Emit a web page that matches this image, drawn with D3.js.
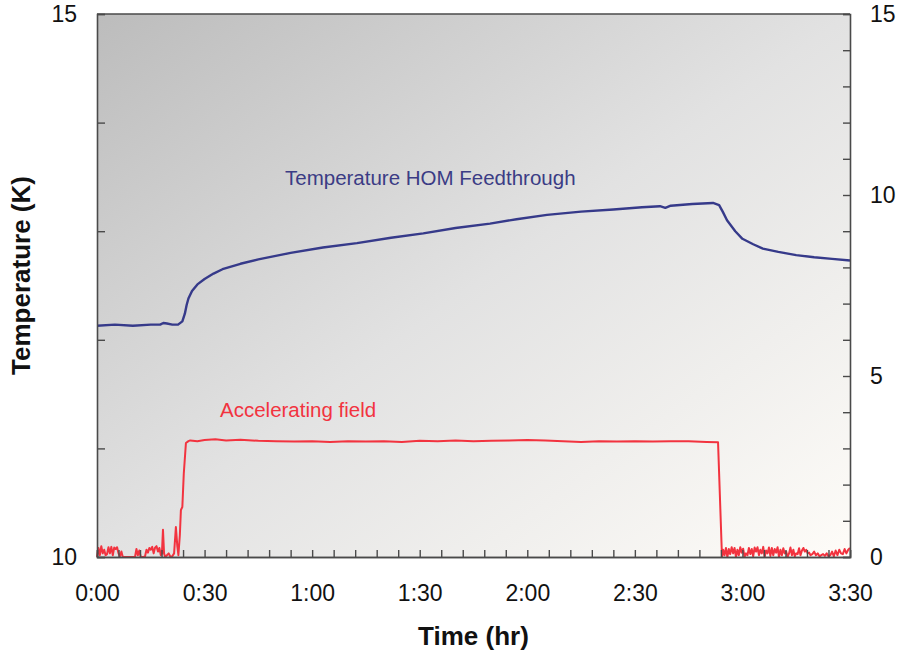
<!DOCTYPE html>
<html>
<head>
<meta charset="utf-8">
<script src="https://cdn.jsdelivr.net/npm/d3@7"></script>
<style>
  body { margin: 0; background: #fff; }
  svg text { font-family: "Liberation Sans", Arial, sans-serif; }
</style>
</head>
<body>
<svg id="chart" width="898" height="654"></svg>
<script>
// time in minutes, HOM feedthrough temperature in K (left axis)
var tempPts = [
  [0, 12.13], [5, 12.14], [10, 12.13], [15, 12.14], [17.6, 12.14], [18.5, 12.155],
  [19.5, 12.15], [21, 12.14], [22.6, 12.14], [23.8, 12.17], [24.5, 12.24], [25, 12.32],
  [25.5, 12.38], [26.5, 12.45], [28, 12.51], [30, 12.56], [32.5, 12.61], [35, 12.65],
  [40, 12.70], [45, 12.74], [54, 12.80], [63, 12.85], [72.5, 12.89], [82, 12.94],
  [91, 12.98], [100, 13.03], [109.6, 13.07], [117, 13.11], [125.5, 13.15], [135, 13.18],
  [144, 13.20], [152, 13.22], [157, 13.23], [158.5, 13.215], [160, 13.235], [166, 13.25],
  [171.8, 13.26], [173.5, 13.24], [174.5, 13.18], [175.7, 13.10], [178, 13.00], [180, 12.93],
  [183, 12.88], [185.7, 12.84], [190, 12.81], [195, 12.78], [200, 12.76], [205, 12.745],
  [210, 12.73]
];

// time in minutes, accelerating field (right axis)
var fieldPts = [
  [0, 0], [0.4, 0.25], [0.8, 0.05], [1.2, 0.3], [1.6, 0.1], [2.0, 0.2], [2.4, 0.05],
  [2.8, 0.08], [3.2, 0.27], [3.6, 0.1], [4.0, 0.28], [4.4, 0.05], [4.8, 0.26], [5.2, 0.22],
  [5.6, 0.27], [6.0, 0.1], [6.4, 0.02], [6.8, 0.15], [7.2, 0], [8, 0], [9, 0], [10, 0],
  [10.6, 0], [11.0, 0.22], [11.4, 0.05], [11.8, 0.18], [12.2, 0], [13, 0], [13.4, 0.02],
  [13.8, 0.2], [14.2, 0.12], [14.6, 0.25], [15.0, 0.2], [15.4, 0.28], [15.8, 0.1],
  [16.2, 0.26], [16.6, 0.3], [17.0, 0.15], [17.4, 0.25], [17.8, 0.05], [18.1, 0.1],
  [18.4, 0.75], [18.7, 0.1], [19.0, 0], [19.5, 0.05], [20, 0.1], [20.5, 0], [21, 0.02],
  [21.5, 0.1], [22, 0.83], [22.4, 0.3], [22.7, 0.05], [23.1, 0.6], [23.4, 1.3], [23.8, 1.38],
  [24.2, 2.3], [24.8, 3.15], [25.5, 3.2], [26, 3.22], [28, 3.2], [30, 3.23], [33, 3.25],
  [36, 3.22], [40, 3.24], [45, 3.21], [50, 3.2], [55, 3.19], [60, 3.2], [65, 3.18],
  [70, 3.2], [75, 3.19], [80, 3.2], [85, 3.18], [90, 3.21], [95, 3.2], [100, 3.22],
  [105, 3.2], [110, 3.21], [115, 3.22], [120, 3.23], [125, 3.22], [130, 3.2], [135, 3.18],
  [140, 3.2], [145, 3.19], [150, 3.2], [155, 3.19], [160, 3.2], [165, 3.2], [170, 3.18],
  [173.2, 3.17], [174.3, 0], [174.6, 0.2], [175, 0.05], [175.4, 0.25], [175.8, 0],
  [176.2, 0.22], [176.6, 0.08], [177, 0.27], [177.4, 0.1], [177.8, 0.25], [178.2, 0],
  [178.6, 0.2], [179, 0.05], [179.4, 0.27], [179.8, 0.12], [180.2, 0.23], [180.6, 0],
  [181, 0.1], [181.4, 0.05], [181.8, 0.25], [182.2, 0.08], [182.6, 0.22], [183, 0.02],
  [183.4, 0.26], [183.8, 0.15], [184.2, 0.27], [184.6, 0.05], [185, 0.2], [185.4, 0.1],
  [185.8, 0.28], [186.2, 0], [186.6, 0.18], [187, 0.1], [187.4, 0.26], [187.8, 0.03],
  [188.2, 0.25], [188.6, 0.05], [189, 0.22], [189.4, 0.12], [189.8, 0.27], [190.2, 0],
  [190.6, 0.2], [191, 0.05], [191.4, 0.24], [191.8, 0.1], [192.2, 0.15], [192.6, 0],
  [193, 0.1], [193.4, 0.26], [193.8, 0.05], [194.2, 0.2], [194.6, 0.02], [195, 0.1],
  [195.4, 0.08], [195.8, 0.24], [196.2, 0.05], [196.6, 0.18], [197, 0.25], [197.4, 0.15],
  [197.8, 0.2], [198.2, 0.1], [198.6, 0.12], [199, 0.05], [199.5, 0.08], [200, 0.15],
  [200.5, 0.05], [201, 0.1], [201.5, 0.02], [202, 0.05], [202.5, 0.08], [203, 0.03],
  [203.5, 0.1], [204, 0.02], [204.5, 0.05], [205, 0.15], [205.5, 0.02], [206, 0.18],
  [206.5, 0.05], [207, 0.2], [207.5, 0.1], [208, 0.08], [208.5, 0.22], [209, 0.1],
  [209.5, 0.2], [210, 0.25]
];

var xTickLabels = ["0:00", "0:30", "1:00", "1:30", "2:00", "2:30", "3:00", "3:30"];
var leftLabels = [10, 15];
var rightLabels = [0, 5, 10, 15];

var svg = d3.select("#chart");
var margin = {left: 97, right: 48, top: 14, bottom: 97};
var W = 898, H = 654;
var x0 = margin.left, x1 = W - margin.right, y0 = H - margin.bottom, y1 = margin.top;

var x = d3.scaleLinear().domain([0, 210]).range([x0, x1]);
var yL = d3.scaleLinear().domain([10, 15]).range([y0, y1]);
var yR = d3.scaleLinear().domain([0, 15]).range([y0, y1]);

// background gradient
var grad = svg.append("defs").append("linearGradient")
  .attr("id", "bg").attr("x1", 0).attr("y1", 0).attr("x2", 1).attr("y2", 1);
grad.append("stop").attr("offset", "0%").attr("stop-color", "#bcbcbc");
grad.append("stop").attr("offset", "50%").attr("stop-color", "#e2e2e2");
grad.append("stop").attr("offset", "100%").attr("stop-color", "#fefcf8");

svg.append("rect")
  .attr("x", x0).attr("y", y1)
  .attr("width", x1 - x0).attr("height", y0 - y1)
  .attr("fill", "url(#bg)");

var axisColor = "#4a4a4a";

// lines
var lineT = d3.line().x(function(d) { return x(d[0]); }).y(function(d) { return yL(d[1]); });
var lineF = d3.line().x(function(d) { return x(d[0]); }).y(function(d) { return yR(d[1]); });

svg.append("path").datum(fieldPts)
  .attr("d", lineF).attr("fill", "none")
  .attr("stroke", "#f2333f").attr("stroke-width", 2).attr("stroke-linejoin", "round");

svg.append("path").datum(tempPts)
  .attr("d", lineT).attr("fill", "none")
  .attr("stroke", "#363a8a").attr("stroke-width", 2.4).attr("stroke-linejoin", "round");

// axes
svg.append("g").attr("transform", "translate(0," + y0 + ")")
  .call(d3.axisBottom(x).tickValues(d3.range(0, 211, 6)).tickSize(-7).tickFormat(""));
svg.append("g").attr("transform", "translate(0," + y0 + ")")
  .call(d3.axisBottom(x).tickValues(d3.range(0, 211, 30)).tickSize(0).tickPadding(28)
    .tickFormat(function(d, i) { return xTickLabels[i]; }));

svg.append("g").attr("transform", "translate(" + x0 + ",0)")
  .call(d3.axisLeft(yL).ticks(5).tickSize(-8).tickPadding(20)
    .tickFormat(function(d) { return leftLabels.indexOf(d) >= 0 ? d : ""; }));

svg.append("g").attr("transform", "translate(" + x1 + ",0)")
  .call(d3.axisRight(yR).tickValues(d3.range(0, 16, 1)).tickSize(-7).tickPadding(20)
    .tickFormat(function(d) { return rightLabels.indexOf(d) >= 0 ? d : ""; }));

svg.selectAll(".domain").attr("stroke", axisColor).attr("stroke-width", 1.6);
svg.selectAll(".tick line").attr("stroke", axisColor).attr("stroke-width", 1.4);
svg.selectAll(".tick text").attr("fill", "#111").style("font-size", "23px");

// top border
svg.append("line").attr("x1", x0).attr("x2", x1).attr("y1", y1).attr("y2", y1)
  .attr("stroke", axisColor).attr("stroke-width", 1.6);

// axis titles
svg.append("text")
  .attr("transform", "translate(30," + ((y0 + y1) / 2 - 10) + ") rotate(-90)")
  .attr("text-anchor", "middle")
  .style("font-size", "26px").style("font-weight", "bold").attr("fill", "#111")
  .text("Temperature (K)");

svg.append("text")
  .attr("x", (x0 + x1) / 2).attr("y", 645)
  .attr("text-anchor", "middle")
  .style("font-size", "26px").style("font-weight", "bold").attr("fill", "#111")
  .text("Time (hr)");

// series labels
svg.append("text").attr("x", 285).attr("y", 185)
  .style("font-size", "20.5px").attr("fill", "#3b3c85")
  .text("Temperature HOM Feedthrough");

svg.append("text").attr("x", 220).attr("y", 417)
  .style("font-size", "20.5px").attr("fill", "#f2333f")
  .text("Accelerating field");
</script>
</body>
</html>
